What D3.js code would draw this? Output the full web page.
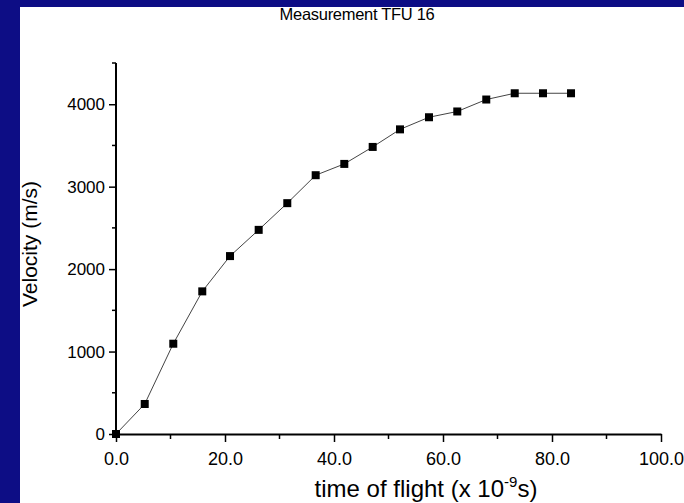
<!DOCTYPE html>
<html><head><meta charset="utf-8">
<script src="https://cdn.jsdelivr.net/npm/d3@7"></script>
<style>
html,body{margin:0;padding:0;background:#0d0d85;overflow:hidden;}
svg{display:block;}
text{font-family:"Liberation Sans",Arial,Helvetica,sans-serif;fill:#000;}
</style></head>
<body>
<svg id="chart" width="684" height="503"></svg>
<script>
const title = "Measurement TFU 16";
const xLabel = "time of flight (x 10";
const yLabel = "Velocity (m/s)";
const timeValues = [0, 5.27, 10.51, 15.83, 20.92, 26.18, 31.43, 36.64, 41.89, 47.10, 52.11, 57.43, 62.62, 67.94, 73.16, 78.35, 83.49];
const velocityValues = [0, 364, 1095, 1730, 2158, 2476, 2800, 3139, 3276, 3482, 3695, 3842, 3912, 4057, 4133, 4133, 4133];
const xTickValues = [0, 20, 40, 60, 80, 100];
const xMinorTicks = [10, 30, 50, 70, 90];
const yTickValues = [0, 1000, 2000, 3000, 4000];
const yMinorTicks = [500, 1500, 2500, 3500, 4500];

const svg = d3.select("#chart");
svg.append("rect").attr("x", 20).attr("y", 7).attr("width", 664).attr("height", 496).attr("fill", "#fff");

const x = d3.scaleLinear().domain([0, 100]).range([116, 661]);
const y = d3.scaleLinear().domain([0, 4500]).range([434, 63]);

// title
svg.append("text").attr("x", 357).attr("y", 20).attr("text-anchor", "middle")
  .attr("font-size", 16.5).attr("letter-spacing", -0.3).text(title);

// axes
const xAxis = d3.axisBottom(x).tickValues(xTickValues).tickFormat(d3.format(".1f")).tickSize(8).tickSizeOuter(0).tickPadding(10);
const gx = svg.append("g").attr("transform", `translate(0,${y(0)})`).call(xAxis);
gx.selectAll(".tick text").attr("font-size", 18).attr("font-family", "Liberation Sans, Arial, sans-serif");
gx.append("g").selectAll("line").data(xMinorTicks).join("line")
  .attr("x1", d => x(d)).attr("x2", d => x(d)).attr("y1", 0).attr("y2", 5).attr("stroke", "#000").attr("stroke-width", 1.5);

const yAxis = d3.axisLeft(y).tickValues(yTickValues).tickFormat(d3.format("d")).tickSize(7).tickSizeOuter(0).tickPadding(4);
const gy = svg.append("g").attr("transform", `translate(${x(0)},0)`).call(yAxis);
gy.selectAll(".tick text").attr("font-size", 17).attr("font-family", "Liberation Sans, Arial, sans-serif");
gy.append("g").selectAll("line").data(yMinorTicks).join("line")
  .attr("x1", -4).attr("x2", 0).attr("y1", d => y(d)).attr("y2", d => y(d)).attr("stroke", "#000").attr("stroke-width", 1.5);

[gx, gy].forEach(g => {
  g.select(".domain").attr("stroke", "#000").attr("stroke-width", 2);
  g.selectAll(".tick line").attr("stroke", "#000").attr("stroke-width", 1.5);
});
gy.select(".domain").attr("d", `M0,${y(0)}V${y(4500)}`);

// line
const pts = timeValues.map((t, i) => [t, velocityValues[i]]);
svg.append("path").datum(pts)
  .attr("fill", "none").attr("stroke", "#444").attr("stroke-width", 1)
  .attr("d", d3.line().x(d => x(d[0])).y(d => y(d[1])));
svg.append("g").selectAll("rect").data(pts).join("rect")
  .attr("x", d => x(d[0]) - 4).attr("y", d => y(d[1]) - 4)
  .attr("width", 8).attr("height", 8).attr("fill", "#000");

// axis labels
const xl = svg.append("text").attr("x", 426).attr("y", 497).attr("text-anchor", "middle").attr("font-size", 24);
xl.append("tspan").text(xLabel);
xl.append("tspan").attr("font-size", 15).attr("dy", -10).text("-9");
xl.append("tspan").attr("dy", 10).text("s)");

svg.append("text").attr("transform", "translate(37,244) rotate(-90)").attr("text-anchor", "middle")
  .attr("font-size", 21).text(yLabel);
</script>
</body></html>
